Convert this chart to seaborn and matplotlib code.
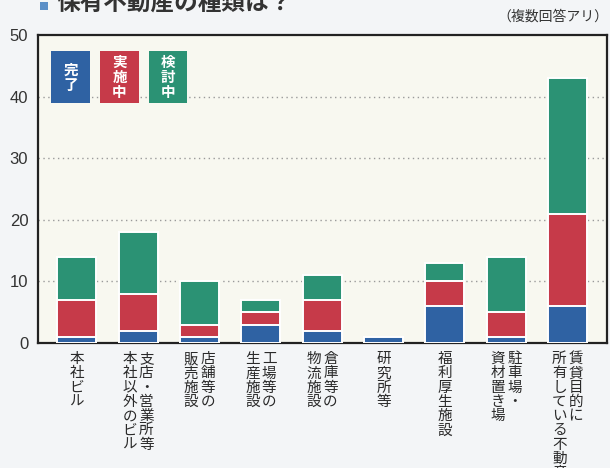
import matplotlib
matplotlib.use("Agg")
import matplotlib.pyplot as plt
from matplotlib.patches import Rectangle
from matplotlib.transforms import blended_transform_factory, offset_copy
import seaborn as sns
import pandas as pd

# ---- data ----
categories = ["本社ビル", "支店・営業所等\n本社以外のビル", "店舗等の\n販売施設", "工場等の\n生産施設",
              "倉庫等の\n物流施設", "研究所等", "福利厚生施設", "駐車場・\n資材置き場",
              "賃貸目的に\n所有している不動産"]
series_names = ["完了", "実施中", "検討中"]
done = [1, 2, 1, 3, 2, 1, 6, 1, 6]
in_progress = [6, 6, 2, 2, 5, 0, 4, 4, 15]
considering = [7, 10, 7, 2, 4, 0, 3, 9, 22]
yticks = [0, 10, 20, 30, 40, 50]
title = "保有不動産の種類は？"
note = "（複数回答アリ）"

colors = ["#2f62a3", "#c63a49", "#2b9274"]

sns.set_theme(style="white")
plt.rcParams["font.family"] = ["Noto Sans CJK JP", "DejaVu Sans"]

fig = plt.figure(figsize=(6.1, 4.68), dpi=100, facecolor="#f3f5f7")
W, H = 610, 468
ax_l, ax_r, ax_t, ax_b = 38, 607, 35, 343
ax = fig.add_axes([ax_l / W, 1 - ax_b / H, (ax_r - ax_l) / W, (ax_b - ax_t) / H])
ax.set_facecolor("#f8f8f0")

df = pd.DataFrame({"cat": categories, "done": done, "prog": in_progress, "cons": considering})
df["c1"] = df["done"]
df["c2"] = df["done"] + df["prog"]
df["c3"] = df["c2"] + df["cons"]

for col, c in zip(["c3", "c2", "c1"], colors[::-1]):
    sns.barplot(data=df, x="cat", y=col, order=categories, color=c, saturation=1,
                width=0.635, edgecolor="white", linewidth=1.4, ax=ax, errorbar=None, zorder=3)

ax.set_ylim(0, 50)
ax.set_xlim(-0.63, 8.64)
ax.set_yticks(yticks)
ax.set_yticklabels([str(v) for v in yticks], fontfamily=["Liberation Sans", "DejaVu Sans"],
                   fontsize=12, color="#333333")
ax.tick_params(axis="y", length=0, pad=7)
ax.tick_params(axis="x", length=0, labelbottom=False)
ax.set_xlabel("")
ax.set_ylabel("")
for y in yticks[1:-1]:
    ax.axhline(y, color="#9a9a9a", lw=1.0, ls=(0, (1, 2.5)), zorder=1)
for s in ax.spines.values():
    s.set_visible(True)
    s.set_color("#222222")
    s.set_linewidth(1.6)

# vertical category labels (Japanese tategaki: right column first)
base = blended_transform_factory(ax.transData, ax.transAxes)
col_gap = 16.5
for i, lab in enumerate(categories):
    cols = lab.split("\n")
    n = len(cols)
    for j, colt in enumerate(cols):
        dx = ((n - 1) / 2 - j) * col_gap
        tr = offset_copy(base, fig=fig, x=dx, y=0, units="dots")
        ax.text(i, -0.03, "\n".join(colt), transform=tr, ha="center", va="top",
                fontsize=10.5, linespacing=1.02, color="#2a2a2a")

# legend boxes
boxes = [(51, 90), (100, 139), (149, 187)]
for (x0, x1), name, c in zip(boxes, series_names, colors):
    fx0 = (x0 - ax_l) / (ax_r - ax_l)
    fw = (x1 - x0) / (ax_r - ax_l)
    fy0 = (ax_b - 103) / (ax_b - ax_t)
    fh = (103 - 51) / (ax_b - ax_t)
    ax.add_patch(Rectangle((fx0, fy0), fw, fh, transform=ax.transAxes, facecolor=c,
                           edgecolor="none", zorder=5))
    ax.text(fx0 + fw / 2, fy0 + fh / 2, "\n".join(name), transform=ax.transAxes,
            ha="center", va="center", fontsize=10.5, fontweight="bold", linespacing=0.95,
            color="white", zorder=6)

# title (cut off at top, as in the reference) and note
fig.patches.append(Rectangle((40 / W, 1 - 10 / H), 8 / W, 8 / H, transform=fig.transFigure,
                             facecolor="#5b8fc7", edgecolor="none"))
fig.text(57 / W, 1 - 10 / H, title, ha="left", va="baseline", fontsize=17,
         fontweight="bold", color="#333333")
fig.text(608 / W, 1 - 17 / H, note, ha="right", va="center", fontsize=10, color="#333333")

fig.savefig("out.png", dpi=100, facecolor=fig.get_facecolor())
